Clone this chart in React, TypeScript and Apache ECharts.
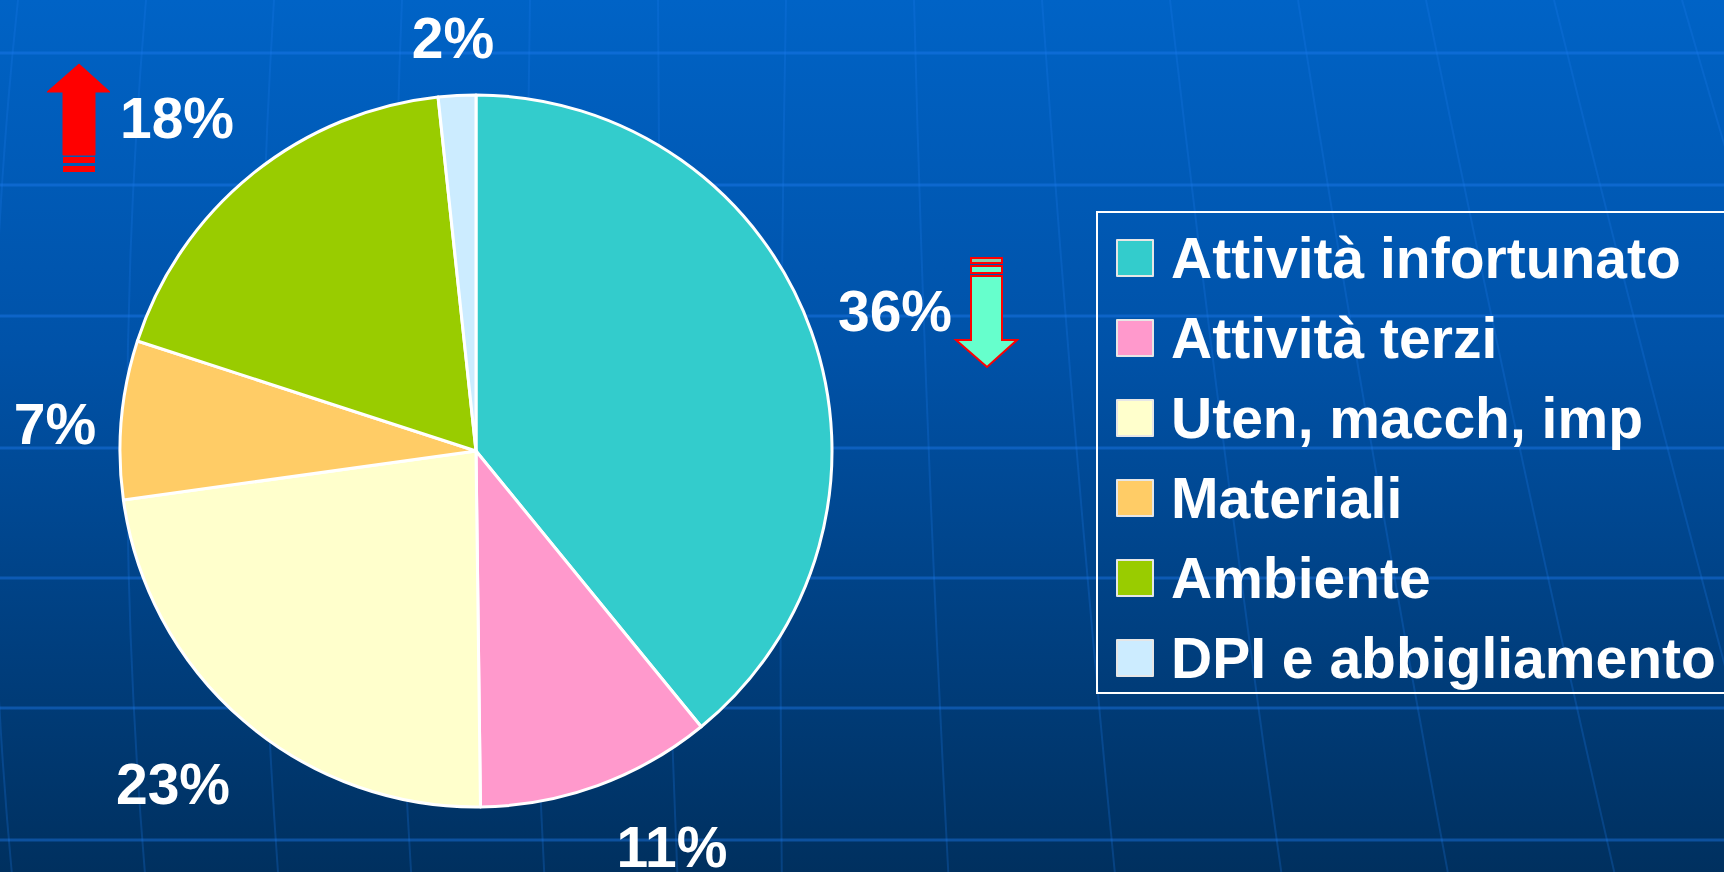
import React, { useEffect, useRef } from "react";
import * as echarts from "echarts";

// ---- data ----
const CATEGORIES = [
  "Attività infortunato",
  "Attività terzi",
  "Uten, macch, imp",
  "Materiali",
  "Ambiente",
  "DPI e abbigliamento",
];
const VALUES = [39.1, 10.7, 23.0, 7.2, 18.3, 1.7];
const LABELS = ["36%", "11%", "23%", "7%", "18%", "2%"];
const COLORS = ["#33CCCC", "#FF99CC", "#FFFFCC", "#FFCC66", "#99CC00", "#CCECFF"];

// ---- layout (not data) ----
const W = 1724;
const H = 872;
const FONT = "'Liberation Sans', Arial, Helvetica, sans-serif";
const LABEL_POS: number[][] = [
  [895, 311],
  [672, 847],
  [173, 784],
  [55, 424],
  [177, 118],
  [453, 38],
];
const H_LINES = [53, 185, 316, 448, 578, 708, 840];
const V_TOPS = [18, 146, 274, 402, 530, 658, 786, 914, 1042, 1170, 1298, 1426, 1554, 1682];

function gridGraphics() {
  const els: any[] = [];
  H_LINES.forEach((y) => {
    els.push({
      type: "line",
      silent: true,
      z: 0,
      shape: { x1: 0, y1: y, x2: W, y2: y },
      style: { stroke: "rgba(30,125,240,0.42)", lineWidth: 3 },
    });
  });
  V_TOPS.forEach((x0) => {
    let x1: number;
    let cx: number;
    if (x0 >= 786) {
      x1 = x0 + ((x0 - 800) * H) / 2900;
      cx = (x0 + x1) / 2 - 6;
    } else {
      x1 = x0 + (x0 - 800) * 0.04 + 25;
      cx = (x0 + x1) / 2 - 45 * (1 - x0 / 800);
    }
    els.push({
      type: "bezierCurve",
      silent: true,
      z: 0,
      shape: { x1: x0, y1: 0, x2: x1, y2: H, cpx1: cx, cpy1: H / 2 },
      style: { stroke: "rgba(30,125,240,0.24)", lineWidth: 2, fill: null },
    });
  });
  return els;
}

function arrowGraphics() {
  return [
    // red up arrow
    {
      type: "polygon",
      z: 10,
      silent: true,
      shape: {
        points: [
          [79, 64],
          [110, 92],
          [95, 92],
          [95, 155],
          [63, 155],
          [63, 92],
          [47, 92],
        ],
      },
      style: { fill: "#FF0000", stroke: "#FF0000", lineWidth: 1 },
    },
    { type: "rect", z: 10, silent: true, shape: { x: 63, y: 157, width: 32, height: 6 }, style: { fill: "#FF0000" } },
    { type: "rect", z: 10, silent: true, shape: { x: 63, y: 166, width: 32, height: 6 }, style: { fill: "#FF0000" } },
    // green down arrow
    {
      type: "polygon",
      z: 10,
      silent: true,
      shape: {
        points: [
          [971, 276],
          [1002, 276],
          [1002, 340],
          [1017, 340],
          [987, 367],
          [956, 340],
          [971, 340],
        ],
      },
      style: { fill: "#66FFCC", stroke: "#FF0000", lineWidth: 2, lineJoin: "miter" },
    },
    { type: "rect", z: 10, silent: true, shape: { x: 971, y: 258, width: 31, height: 5 }, style: { fill: "#88CCAA", stroke: "#FF0000", lineWidth: 2 } },
    { type: "rect", z: 10, silent: true, shape: { x: 971, y: 266, width: 31, height: 7 }, style: { fill: "#66FFCC", stroke: "#FF0000", lineWidth: 2 } },
  ];
}

export default function App() {
  const ref = useRef<HTMLDivElement>(null);

  useEffect(() => {
    if (!ref.current) return;
    const chart = echarts.init(ref.current, null, { renderer: "svg" });
    chart.setOption({
      animation: false,
      backgroundColor: "transparent",
      legend: {
        orient: "vertical",
        left: 1116,
        top: 228,
        itemWidth: 36,
        itemHeight: 36,
        itemGap: 20,
        icon: "rect",
        padding: 0,
        selectedMode: false,
        itemStyle: { borderColor: "#E6E6E6", borderWidth: 2 },
        textStyle: {
          color: "#FFFFFF",
          fontSize: 57,
          fontWeight: "bold",
          fontFamily: FONT,
          lineHeight: 60,
          padding: [0, 0, 0, 13],
        },
        data: CATEGORIES,
      },
      graphic: [
        ...gridGraphics(),
        {
          type: "rect",
          z: 1,
          silent: true,
          shape: { x: 1097, y: 212, width: 700, height: 481 },
          style: { fill: null, stroke: "#FFFFFF", lineWidth: 2 },
        },
        ...arrowGraphics(),
      ],
      series: [
        {
          type: "pie",
          center: [476, 451],
          radius: 356,
          startAngle: 90,
          clockwise: true,
          silent: true,
          avoidLabelOverlap: false,
          emphasis: { disabled: true },
          itemStyle: { borderColor: "#FFFFFF", borderWidth: 3 },
          data: CATEGORIES.map((name, i) => ({
            name,
            value: VALUES[i],
            itemStyle: { color: COLORS[i] },
          })),
          label: {
            show: true,
            position: "outside",
            formatter: (p: any) => LABELS[p.dataIndex],
            color: "#FFFFFF",
            fontSize: 57,
            fontWeight: "bold",
            fontFamily: FONT,
          },
          labelLine: { show: false },
          labelLayout: (p: any) => ({
            x: LABEL_POS[p.dataIndex][0],
            y: LABEL_POS[p.dataIndex][1],
            align: "center",
            verticalAlign: "middle",
          }),
        },
      ],
    });
    return () => chart.dispose();
  }, []);

  return (
    <div
      ref={ref}
      style={{
        position: "absolute",
        left: 0,
        top: 0,
        width: W,
        height: H,
        background: "linear-gradient(180deg, #0063C6 0%, #0052A8 40%, #00305F 100%)",
      }}
    />
  );
}
